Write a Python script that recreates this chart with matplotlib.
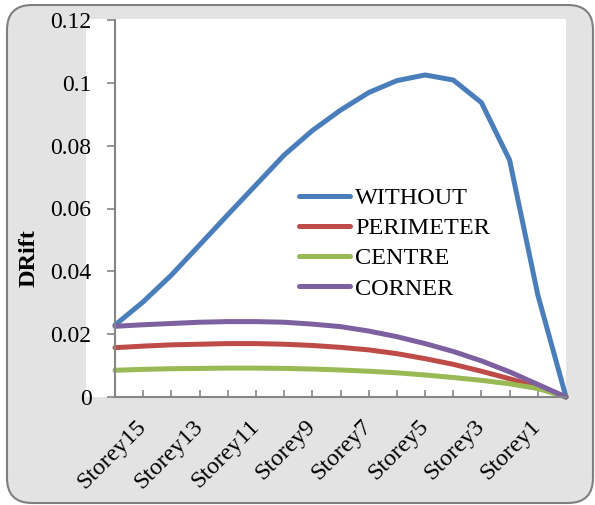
import matplotlib
matplotlib.use('Agg')
import matplotlib.pyplot as plt
from matplotlib.patches import FancyBboxPatch, Rectangle

# storey categories (top of building first), only every other one is labelled
storeys = ['Storey16', 'Storey15', 'Storey14', 'Storey13', 'Storey12', 'Storey11',
           'Storey10', 'Storey9', 'Storey8', 'Storey7', 'Storey6', 'Storey5',
           'Storey4', 'Storey3', 'Storey2', 'Storey1', 'Base']

without = [0.0229, 0.0303, 0.0388, 0.0484, 0.0580, 0.0675, 0.0770, 0.0848, 0.0913,
           0.0969, 0.1007, 0.1025, 0.1009, 0.0937, 0.0754, 0.0325, 0.0]
perimeter = [0.0157, 0.0162, 0.0166, 0.0168, 0.0170, 0.0170, 0.0168, 0.0164, 0.0158,
             0.0150, 0.0138, 0.0122, 0.0104, 0.0082, 0.0058, 0.0032, 0.0]
centre = [0.0085, 0.0088, 0.0090, 0.0091, 0.0092, 0.0092, 0.0091, 0.0089, 0.0086,
          0.0082, 0.0077, 0.0070, 0.0062, 0.0053, 0.0042, 0.0027, 0.0]
corner = [0.0225, 0.0230, 0.0234, 0.0238, 0.0240, 0.0240, 0.0238, 0.0232, 0.0224,
          0.0210, 0.0192, 0.0170, 0.0145, 0.0115, 0.0080, 0.0040, 0.0]

series = [('WITHOUT', without, '#4A7EBB'),
          ('PERIMETER', perimeter, '#BE4B48'),
          ('CENTRE', centre, '#98B954'),
          ('CORNER', corner, '#7D60A0')]

plt.rcParams['font.family'] = 'Liberation Serif'
plt.rcParams['font.size'] = 17.5

fig = plt.figure(figsize=(5.95, 5.05), dpi=100)
fig.patch.set_facecolor('white')

# chart area (rounded grey frame) and white plot area behind the axes
frame = FancyBboxPatch((0.07, 0.02), 5.86, 4.98, boxstyle='round,pad=0,rounding_size=0.25',
                       transform=fig.dpi_scale_trans, facecolor='#e3e3e3',
                       edgecolor='#7f7f7f', linewidth=1.5, zorder=-20)
fig.add_artist(frame)
plot_bg = Rectangle((0.86, 1.08), 4.80, 3.78, transform=fig.dpi_scale_trans,
                    facecolor='white', edgecolor='none', zorder=-10)
fig.add_artist(plot_bg)

ax = fig.add_axes([115 / 595, 108 / 505, 451 / 595, 377 / 505])
ax.patch.set_alpha(0)

x = list(range(len(storeys)))
for name, vals, colour in series:
    ax.plot(x, vals, color=colour, lw=3.6, label=name, clip_on=False,
            solid_capstyle='round', solid_joinstyle='round')

ax.set_xlim(0, len(storeys) - 1)
ax.set_ylim(0, 0.12)
ax.set_yticks([0, 0.02, 0.04, 0.06, 0.08, 0.1, 0.12])
ax.set_yticklabels(['0', '0.02', '0.04', '0.06', '0.08', '0.1', '0.12'], fontsize=17)
ax.set_xticks(x)
ax.set_xticklabels([s if i % 2 == 1 else '' for i, s in enumerate(storeys)],
                   rotation=45, ha='right', va='center', rotation_mode='anchor')

for side in ['top', 'right']:
    ax.spines[side].set_visible(False)
for side in ['left', 'bottom']:
    ax.spines[side].set_color('#868686')
    ax.spines[side].set_linewidth(1.5)
ax.tick_params(axis='y', direction='out', length=6, width=1.2, color='#868686', pad=11)
ax.tick_params(axis='x', direction='in', length=5, width=1.2, color='#868686', pad=19)

ax.set_ylabel('DRift', fontweight='bold')
ax.yaxis.set_label_coords(-0.168, 0.369)

ax.legend(loc='upper left', bbox_to_anchor=(0.408, 0.556), frameon=False,
          borderpad=0, borderaxespad=0, handlelength=2.1, handletextpad=0.2,
          labelspacing=0.33)

fig.savefig('out.png', dpi=100)
